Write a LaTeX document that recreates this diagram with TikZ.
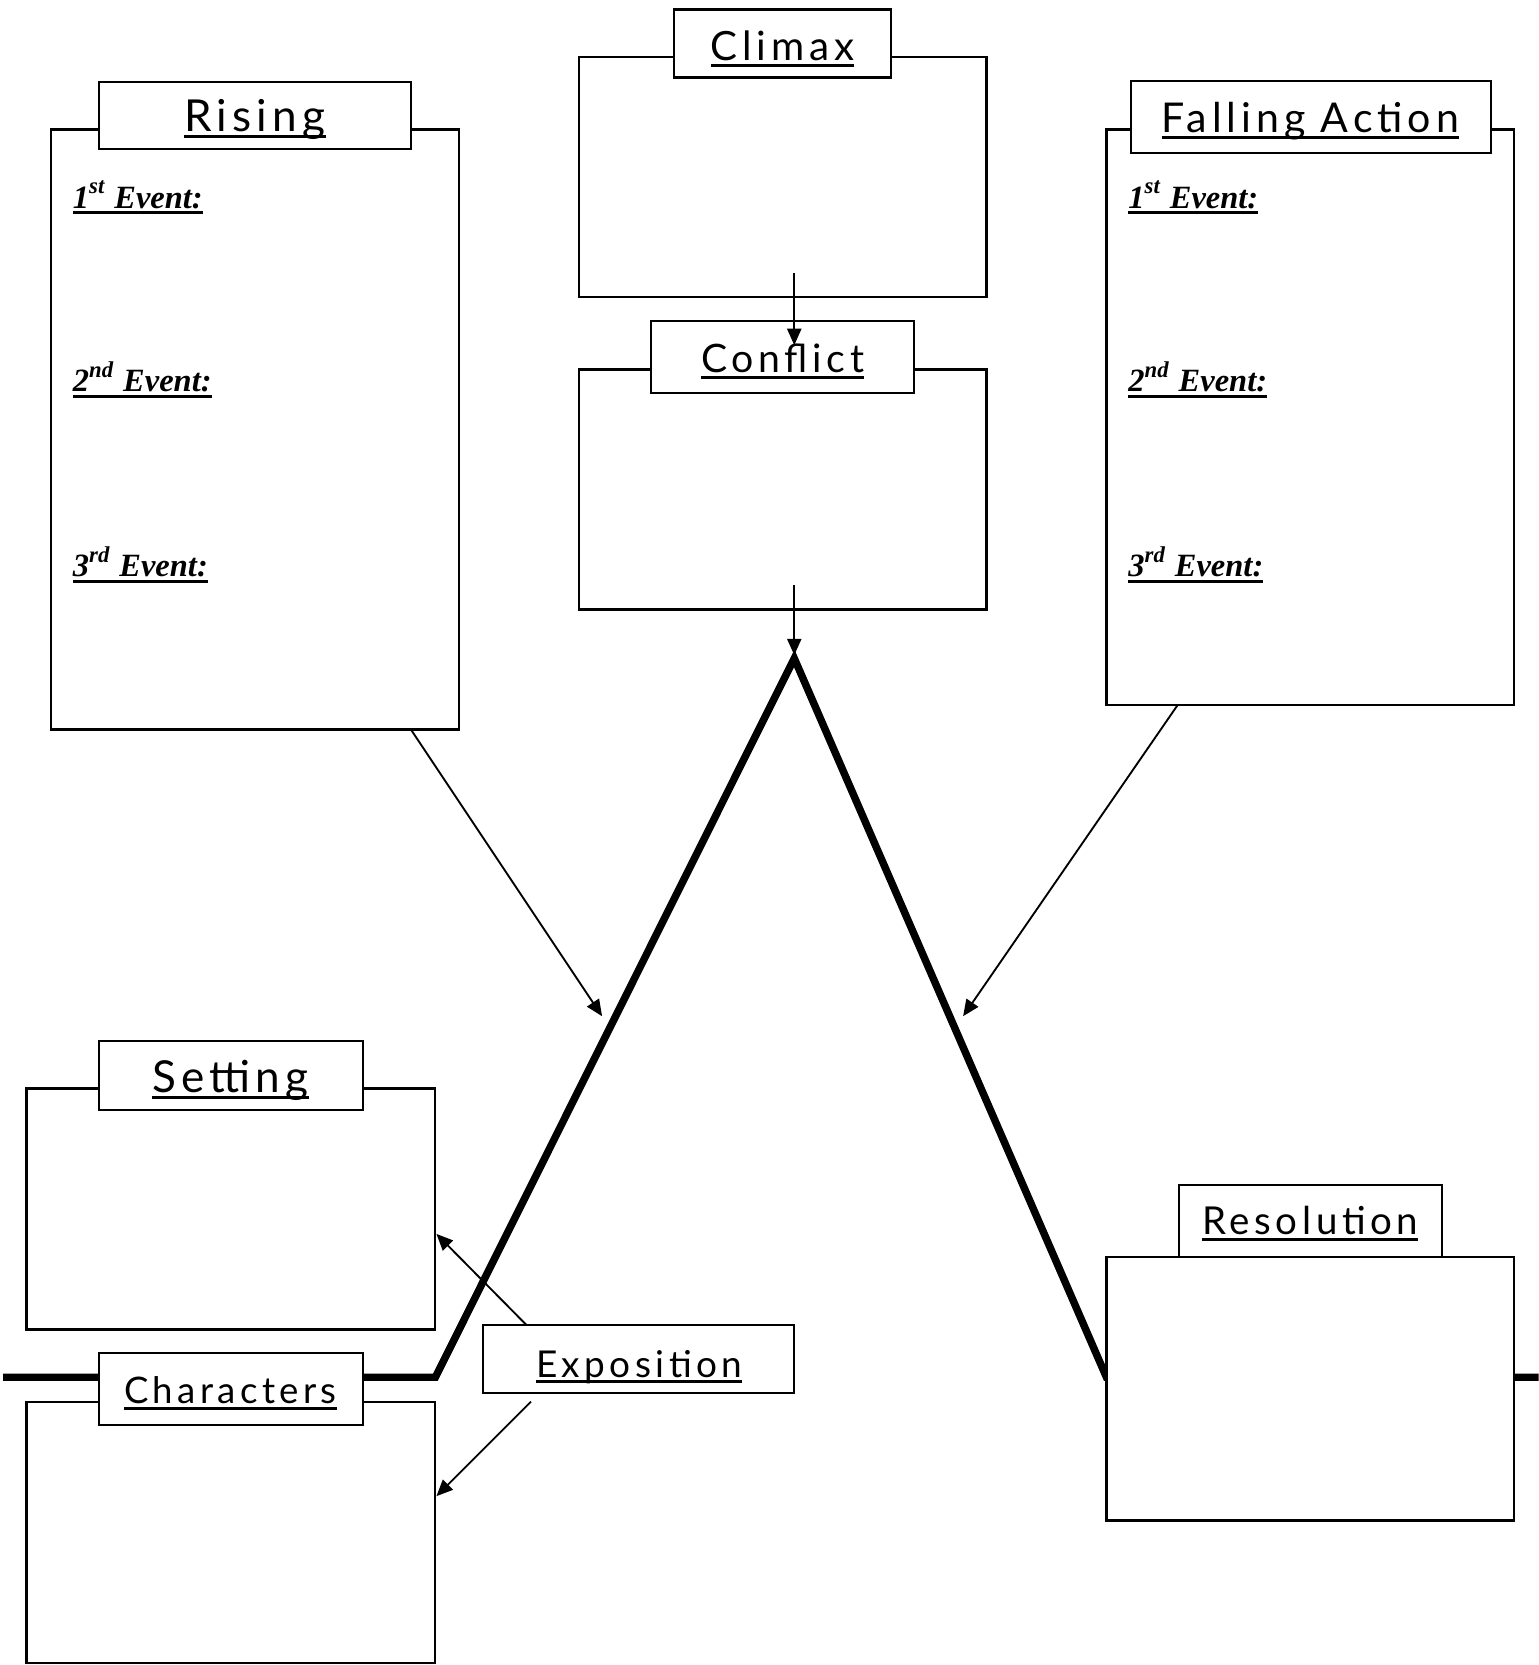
\documentclass[tikz,border=0pt]{standalone}
\usepackage{fontspec}
\setmainfont{Liberation Serif}
\newfontfamily\hand{Lato}[LetterSpace=12]
\usetikzlibrary{fit,arrows.meta}
\newcommand\tul[1]{\setbox0\hbox{#1}\leavevmode\rlap{\rule[-1.6pt]{\wd0}{0.8pt}}\box0}
\newcommand\eul[1]{\setbox0\hbox{#1}\leavevmode\rlap{\rule[-1.7pt]{\wd0}{0.85pt}}\box0}
\tikzset{
  panel/.style={draw, line width=0.6pt, fill=white, inner sep=0pt},
  ttext/.style={font=\hand\fontsize{#1}{#1}\selectfont, inner sep=0pt, anchor=base},
  evt/.style={font=\fontsize{8.7}{10}\selectfont\bfseries\itshape, anchor=base west, inner sep=0pt},
  arr/.style={-{Triangle[length=4.4pt,width=3.8pt]}, line width=0.5pt},
  plotline/.style={line width=2pt, line join=miter},
}
\begin{document}
\begin{tikzpicture}[x=0.01cm, y=-0.01cm]
\useasboundingbox (0,0) rectangle (1449,1568);
% plot line
\coordinate (lstart) at (3,1297);
\coordinate (lbase) at (410,1297);
\coordinate (peak) at (748,620);
\coordinate (rbase) at (1042,1297);
\coordinate (lend) at (1449,1297);
\draw[plotline] (lstart) -- (lbase) -- (peak) -- (rbase) -- (lend);

% Rising
\node[panel, fit={(48,122) (432,687)}] (risingbox) {};
\node[panel, fit={(93,77) (387,140)}] (risingtitle) {};
\node[ttext=11.8] (risingtxt) at (240,124) {\tul{Rising}};
\node[evt] (r1) at (68,196) {\eul{1\textsuperscript{st} Event:}};
\node[evt] (r2) at (68,369) {\eul{2\textsuperscript{nd} Event:}};
\node[evt] (r3) at (68,543) {\eul{3\textsuperscript{rd} Event:}};

% Climax
\node[panel, fit={(545,54) (929,280)}] (climaxbox) {};
\node[panel, fit={(635,9) (839,73)}] (climaxtitle) {};
\node[ttext=10.8] (climaxtxt) at (737,57) {\tul{Climax}};

% Conflict
\node[panel, fit={(545,348) (929,574)}] (conflictbox) {};
\node[panel, fit={(613,302) (861,370)}] (conflicttitle) {};
\node[ttext=10.5] (conflicttxt) at (737,351) {\tul{Conflict}};

% Falling Action
\node[panel, fit={(1042,122) (1426,664)}] (fallbox) {};
\node[panel, fit={(1065,76) (1404,144)}] (falltitle) {};
\node[ttext=11] (falltxt) at (1234,125) {\tul{Falling Action}};
\node[evt] (f1) at (1062,196) {\eul{1\textsuperscript{st} Event:}};
\node[evt] (f2) at (1062,369) {\eul{2\textsuperscript{nd} Event:}};
\node[evt] (f3) at (1062,543) {\eul{3\textsuperscript{rd} Event:}};

% Setting
\node[panel, fit={(25,1025) (410,1252)}] (setbox) {};
\node[panel, fit={(93,980) (342,1045)}] (settitle) {};
\node[ttext=11.8] (settxt) at (217,1029) {\tul{Setting}};

% Characters
\node[panel, fit={(25,1320) (410,1566)}] (charbox) {};
\node[panel, fit={(93,1274) (342,1342)}] (chartitle) {};
\node[ttext=9.8] (chartxt) at (217,1322) {\tul{Characters}};

% Exposition
\node[panel, fit={(455,1248) (748,1312)}] (expotitle) {};
\node[ttext=9.9] (expotxt) at (602,1297) {\tul{Exposition}};

% Resolution
\node[panel, fit={(1042,1184) (1426,1432)}] (resbox) {};
\node[panel, fit={(1110,1116) (1358,1184)}] (restitle) {};
\node[ttext=10.3] (restxt) at (1234,1163) {\tul{Resolution}};

% connectors
\coordinate (risefrom) at (387,687);
\coordinate (riseto) at (567,957);
\coordinate (fallfrom) at (1109,664);
\coordinate (fallto) at (907,957);
\coordinate (climfrom) at (748,257);
\coordinate (climto) at (748,325);
\coordinate (conffrom) at (748,551);
\coordinate (peaktip) at (748,617);
\coordinate (expofromA) at (496,1248);
\coordinate (expotoA) at (411,1162);
\coordinate (expofromB) at (500,1320);
\coordinate (expotoB) at (411,1409);
\draw[arr] (risefrom) -- (riseto);
\draw[arr] (fallfrom) -- (fallto);
\draw[arr] (climfrom) -- (climto);
\draw[arr] (conffrom) -- (peaktip);
\draw[arr] (expofromA) -- (expotoA);
\draw[arr] (expofromB) -- (expotoB);
\end{tikzpicture}
\end{document}
